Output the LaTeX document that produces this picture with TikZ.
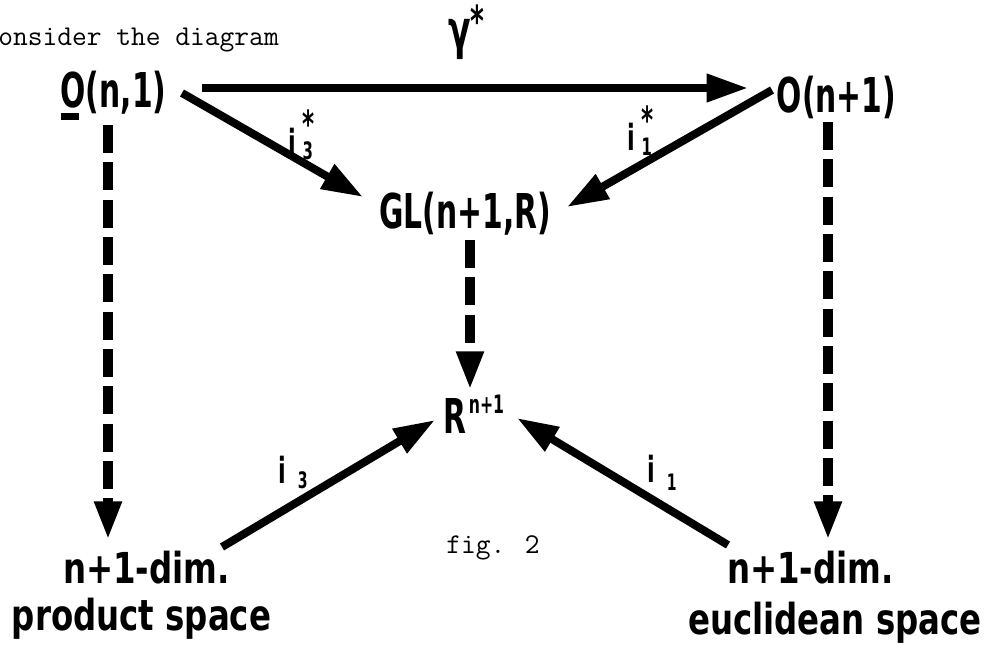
\documentclass[tikz,border=0pt]{standalone}
\usepackage{fontspec}
\usetikzlibrary{arrows.meta,calc}
\newfontfamily\labA[FakeStretch=0.62]{DejaVu Sans}
\newfontfamily\labB[FakeStretch=0.76]{DejaVu Sans}
\newcommand\ulO{\rlap{\rule[-9.5pt]{13.5pt}{5pt}}O}
\begin{document}
\begin{tikzpicture}[x=0.75pt,y=-0.75pt,
  big/.style={font=\labA\bfseries\fontsize{36}{40}\selectfont, inner sep=0, anchor=base},
  bot/.style={font=\labB\bfseries\fontsize{32}{36}\selectfont, inner sep=0, anchor=base},
  idx/.style={font=\labA\bfseries\fontsize{27}{30}\selectfont, inner sep=0, anchor=base west},
  tt/.style={font=\ttfamily\fontsize{21.5}{24}\selectfont, inner sep=0, anchor=base west},
  arr/.style={line width=6pt, -{Triangle[length=31pt,width=20pt]}},
  darr/.style={line width=7.5pt, dash pattern=on 21pt off 7pt, -{Triangle[length=29pt,width=19pt]}}]
\useasboundingbox (0,0) rectangle (986,650);

% texts
\node[tt] (cons) at (-2,45) {onsider the diagram};
\node[tt] (fig) at (446,553) {fig. 2};

% main nodes
\node[big] (On1) at (113.5,107) {\ulO(n,1)};
\node[big] (On2) at (836.5,112) {O(n+1)};
\node[big] (GL) at (465,228) {GL(n+1,R)};
\node[big, anchor=base west] (R) at (443,433) {R\hspace{2pt}\raisebox{15pt}{\fontsize{19}{19}\selectfont n+1}};
\node[bot] (dimL) at (146.5,583) {n+1-dim.};
\node[bot] (prodL) at (141.5,630) {product space};
\node[bot] (dimR) at (810.5,583) {n+1-dim.};
\node[bot] (eucR) at (835,634) {euclidean space};

% labels
\node[big, anchor=base west, font=\labA\bfseries\fontsize{40}{42}\selectfont] (gam) at (448,48) {γ\raisebox{9pt}{\fontsize{32}{32}\selectfont *}};
\node[idx] (l3s) at (288,155) {i\hspace{5pt}\raisebox{-3pt}{\shortstack[l]{\fontsize{28}{20}\selectfont *\\\fontsize{18}{18}\selectfont 3}}};
\node[idx] (l1s) at (627,150) {i\hspace{5pt}\raisebox{-4pt}{\shortstack[l]{\fontsize{28}{20}\selectfont *\\\fontsize{18}{18}\selectfont 1}}};
\node[idx] (l3) at (278,483) {i\hspace{9pt}\raisebox{-3.75pt}{\fontsize{17}{17}\selectfont 3}};
\node[idx] (l1) at (647,482) {i\hspace{9pt}\raisebox{-6pt}{\fontsize{17}{17}\selectfont 1}};

% connectors
\draw[arr] ($(On1.base)+(88.5,-19)$) -- ($(On2.base)+(-88.5,-24)$);
\draw[arr] ($(On1.base)+(68.5,-14)$) -- ($(GL.base)+(-102,-31)$);
\draw[arr] ($(On2.base)+(-64.5,-22)$) -- ($(GL.base)+(102,-21)$);
\draw[darr] ($(GL.base)+(5,12)$) -- ($(R.base west)+(27,-43)$);
\draw[darr] ($(On1.base)+(-5.5,18)$) -- ($(dimL.base)+(-38.5,-43)$);
\draw[darr] ($(On2.base)+(-8.5,10)$) -- ($(dimR.base)+(17.5,-43)$);
\draw[arr] ($(dimL.base)+(75.5,-36)$) -- ($(R.base west)+(-8,-13)$);
\draw[arr] ($(dimR.base)+(-82.5,-38)$) -- ($(R.base west)+(74,-15)$);
\end{tikzpicture}
\end{document}
